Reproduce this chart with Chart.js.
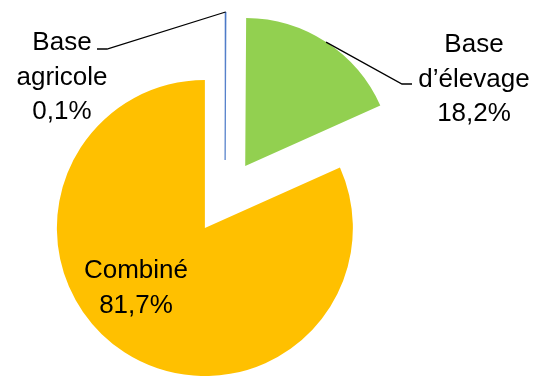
<!DOCTYPE html>
<html>
<head>
<meta charset="utf-8">
<script src="https://cdn.jsdelivr.net/npm/chart.js@4"></script>
<style>
  html, body { margin: 0; padding: 0; background: #fff; }
  #wrap { width: 537px; height: 376px; }
</style>
</head>
<body>
<div id="wrap"><canvas id="pieChart" width="537" height="376"></canvas></div>
<script>
// Répartition des exploitations par type
const categories = ["Base agricole", "Base d\u2019élevage", "Combiné"]
const shares = [0.1, 18.2, 81.7]
const colors = ["#4472C4", "#92D050", "#FFC000"]

const pieRadius = 148
const pullOut = 37 // how far each slice is moved out from the centre

// label text block: centre x, first baseline, leader line (elbow, end) or null
const labelLayout = [
  { x: 62, y: 50, lines: ["Base", "agricole"], leader: [[107, 49], [97, 49]] },
  { x: 474, y: 52, lines: ["Base", "d\u2019élevage"], leader: [[402, 84], [412, 84]] },
  { x: 136, y: 278, lines: ["Combiné"], leader: null },
]

const fmt = v => v.toFixed(1).replace(".", ",") + "%"

// exploded pie: shift every arc along its middle angle
const explodeSlices = {
  id: "explodeSlices",
  beforeDatasetsDraw(chart) {
    const a = chart.chartArea
    const cx = (a.left + a.right) / 2
    const cy = (a.top + a.bottom) / 2
    chart.getDatasetMeta(0).data.forEach(arc => {
      const mid = (arc.startAngle + arc.endAngle) / 2
      arc.x = cx + Math.cos(mid) * pullOut
      arc.y = cy + Math.sin(mid) * pullOut
    })
  },
}

const sliceLabels = {
  id: "sliceLabels",
  afterDatasetsDraw(chart) {
    const ctx = chart.ctx
    const arcs = chart.getDatasetMeta(0).data
    ctx.save()
    arcs.forEach((arc, i) => {
      const lay = labelLayout[i]
      const mid = (arc.startAngle + arc.endAngle) / 2
      if (lay.leader) {
        ctx.beginPath()
        ctx.moveTo(arc.x + Math.cos(mid) * arc.outerRadius, arc.y + Math.sin(mid) * arc.outerRadius)
        lay.leader.forEach(p => ctx.lineTo(p[0], p[1]))
        ctx.strokeStyle = "#000"
        ctx.lineWidth = 1.3
        ctx.stroke()
      }
      const lines = lay.lines.concat(fmt(shares[i]))
      ctx.fillStyle = "#000"
      ctx.font = "26px 'Liberation Sans', Arial, sans-serif"
      ctx.textAlign = "center"
      ctx.textBaseline = "alphabetic"
      lines.forEach((t, k) => ctx.fillText(t, lay.x, lay.y + k * 34.5))
    })
    ctx.restore()
  },
}

new Chart(document.getElementById("pieChart"), {
  type: "pie",
  data: {
    labels: categories,
    datasets: [
      {
        data: shares,
        backgroundColor: colors,
        borderColor: colors,
        borderWidth: [0.7, 0, 0], // the thin slice would vanish otherwise
        hoverOffset: 0,
      },
    ],
  },
  options: {
    responsive: false,
    animation: false,
    radius: pieRadius,
    layout: { padding: { left: 0, right: 87, top: 18, bottom: 0 } },
    plugins: {
      legend: { display: false },
      tooltip: { enabled: false },
    },
  },
  plugins: [explodeSlices, sliceLabels],
})
</script>
</body>
</html>
